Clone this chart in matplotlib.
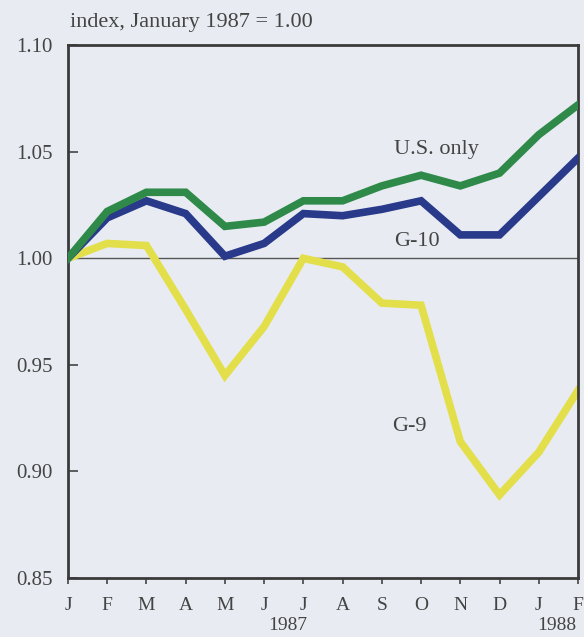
import matplotlib.pyplot as plt
import numpy as np

months = ['J', 'F', 'M', 'A', 'M', 'J', 'J', 'A', 'S', 'O', 'N', 'D', 'J', 'F']
us_only = [1.000, 1.022, 1.031, 1.031, 1.015, 1.017, 1.027, 1.027, 1.034, 1.039, 1.034, 1.040, 1.058, 1.072]
g10 = [1.000, 1.019, 1.027, 1.021, 1.001, 1.007, 1.021, 1.020, 1.023, 1.027, 1.011, 1.011, 1.029, 1.047]
g9 = [1.000, 1.007, 1.006, 0.976, 0.945, 0.968, 1.000, 0.996, 0.979, 0.978, 0.914, 0.889, 0.909, 0.938]

bg = '#e8ecf2'
txt = '#444444'
plt.rcParams['font.family'] = 'Liberation Serif'

fig = plt.figure(figsize=(5.84, 6.37), dpi=100, facecolor=bg)
ax = fig.add_axes([0.1164, 0.0926, 0.8733, 0.8364])
ax.set_facecolor(bg)

x = np.arange(len(months))
ax.axhline(1.0, color='#555555', linewidth=1.0, zorder=1)
ax.plot(x, g9, color='#e3df4a', linewidth=5.5, solid_joinstyle='miter', zorder=2)
ax.plot(x, g10, color='#2a3a8a', linewidth=5.5, solid_joinstyle='miter', zorder=3)
ax.plot(x, us_only, color='#2f8a4a', linewidth=5.5, solid_joinstyle='miter', zorder=4)

ax.set_xlim(0, len(months) - 1)
ax.set_ylim(0.85, 1.10)
ax.set_yticks([0.85, 0.90, 0.95, 1.00, 1.05, 1.10])
ax.set_yticklabels(['0.85', '0.90', '0.95', '1.00', '1.05', '1.10'])
ax.set_xticks(x)
ax.set_xticklabels(months)
ax.tick_params(axis='y', direction='in', length=7, width=1.2, labelsize=15, colors=txt, pad=11)
ax.tick_params(axis='x', direction='out', length=4, width=1.2, labelsize=14, colors=txt, pad=10)

for s in ax.spines.values():
    s.set_color('#3a3a3a')
    s.set_linewidth(2)

ax.text(5.6, -0.089, '1987', transform=ax.get_xaxis_transform(), ha='center', va='center',
        fontsize=14, color=txt)
ax.text(12.45, -0.089, '1988', transform=ax.get_xaxis_transform(), ha='center', va='center',
        fontsize=14, color=txt)

ax.text(0.003, 1.042, 'index, January 1987 = 1.00', transform=ax.transAxes, ha='left', va='center',
        fontsize=16, color=txt)

ax.text(9.4, 1.051, 'U.S. only', ha='center', va='center', fontsize=16, color=txt)
ax.text(8.9, 1.008, 'G-10', ha='center', va='center', fontsize=16, color=txt)
ax.text(8.7, 0.921, 'G-9', ha='center', va='center', fontsize=16, color=txt)

fig.savefig('out.png', dpi=100, facecolor=bg)
